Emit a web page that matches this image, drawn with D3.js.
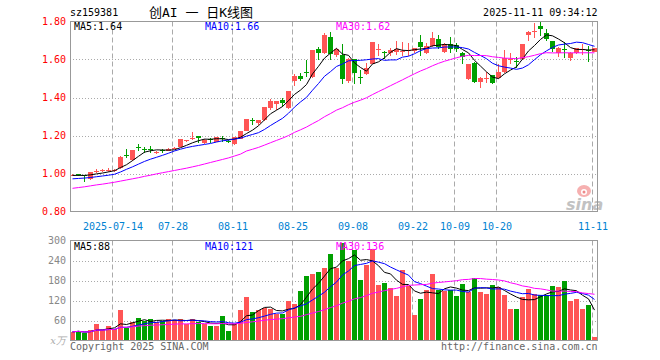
<!DOCTYPE html>
<html><head><meta charset="utf-8">
<script src="https://cdn.jsdelivr.net/npm/d3@7"></script>
<style>body{margin:0;background:#fff}svg{display:block}</style>
</head><body>
<svg id="c" width="660" height="360"></svg>
<script>
const dates = [
"2025-07-03","2025-07-04","2025-07-07","2025-07-08","2025-07-09","2025-07-10","2025-07-11","2025-07-14","2025-07-15","2025-07-16","2025-07-17","2025-07-18","2025-07-21","2025-07-22","2025-07-23","2025-07-24","2025-07-25","2025-07-28","2025-07-29","2025-07-30","2025-07-31",
"2025-08-01","2025-08-04","2025-08-05","2025-08-06","2025-08-07","2025-08-08","2025-08-11","2025-08-12","2025-08-13","2025-08-14","2025-08-15","2025-08-18","2025-08-19","2025-08-20","2025-08-21","2025-08-22","2025-08-25","2025-08-26","2025-08-27","2025-08-28","2025-08-29",
"2025-09-01","2025-09-02","2025-09-03","2025-09-04","2025-09-05","2025-09-08","2025-09-09","2025-09-10","2025-09-11","2025-09-12","2025-09-15","2025-09-16","2025-09-17","2025-09-18","2025-09-19","2025-09-22","2025-09-23","2025-09-24","2025-09-25","2025-09-26","2025-09-29","2025-09-30",
"2025-10-09","2025-10-10","2025-10-13","2025-10-14","2025-10-15","2025-10-16","2025-10-17","2025-10-20","2025-10-21","2025-10-22","2025-10-23","2025-10-24","2025-10-27","2025-10-28","2025-10-29","2025-10-30","2025-10-31",
"2025-11-03","2025-11-04","2025-11-05","2025-11-06","2025-11-07","2025-11-10","2025-11-11"];

const open  = [0.990,0.995,0.990,0.971,1.010,1.012,1.016,1.013,1.027,1.095,1.071,1.138,1.131,1.128,1.110,1.124,1.120,1.132,1.140,1.170,1.182,1.195,1.160,1.180,1.167,1.188,1.170,1.155,1.182,1.224,1.280,1.264,1.280,1.343,1.364,1.387,1.343,1.487,1.513,1.532,1.506,1.655,1.633,1.717,1.624,1.625,1.487,1.600,1.510,1.524,1.576,1.650,1.640,1.633,1.641,1.642,1.644,1.644,1.690,1.633,1.671,1.706,1.641,1.680,1.676,1.636,1.497,1.583,1.483,1.498,1.518,1.504,1.533,1.598,1.592,1.600,1.729,1.748,1.777,1.738,1.697,1.636,1.657,1.606,1.636,1.650,1.652,1.641];
const high  = [0.997,0.998,0.992,1.008,1.025,1.022,1.028,1.025,1.090,1.127,1.126,1.155,1.140,1.146,1.120,1.128,1.132,1.140,1.182,1.178,1.217,1.200,1.180,1.185,1.192,1.197,1.178,1.192,1.226,1.289,1.292,1.282,1.350,1.390,1.384,1.395,1.436,1.526,1.530,1.597,1.652,1.668,1.738,1.743,1.660,1.680,1.610,1.602,1.545,1.583,1.692,1.682,1.645,1.658,1.695,1.690,1.685,1.662,1.730,1.685,1.743,1.730,1.686,1.718,1.686,1.640,1.578,1.585,1.506,1.532,1.520,1.575,1.650,1.634,1.615,1.682,1.752,1.790,1.795,1.760,1.700,1.665,1.690,1.638,1.662,1.680,1.670,1.662];
const low   = [0.985,0.985,0.957,0.968,1.003,1.008,1.010,1.008,1.025,1.083,1.068,1.120,1.110,1.108,1.100,1.110,1.118,1.130,1.138,1.165,1.176,1.160,1.155,1.163,1.165,1.167,1.160,1.152,1.180,1.222,1.255,1.256,1.278,1.332,1.336,1.350,1.340,1.458,1.487,1.508,1.504,1.595,1.628,1.595,1.615,1.470,1.475,1.470,1.470,1.520,1.574,1.620,1.600,1.620,1.625,1.620,1.617,1.633,1.620,1.630,1.665,1.655,1.632,1.632,1.642,1.575,1.494,1.475,1.452,1.476,1.470,1.500,1.528,1.575,1.557,1.598,1.700,1.712,1.725,1.700,1.638,1.615,1.610,1.593,1.630,1.625,1.588,1.638];
const close = [0.994,0.990,0.985,1.006,1.015,1.016,1.020,1.017,1.088,1.090,1.124,1.133,1.127,1.124,1.114,1.120,1.130,1.136,1.180,1.175,1.187,1.185,1.178,1.176,1.190,1.184,1.166,1.190,1.224,1.287,1.274,1.280,1.348,1.382,1.382,1.370,1.434,1.513,1.496,1.528,1.650,1.633,1.729,1.627,1.654,1.500,1.600,1.530,1.506,1.557,1.690,1.655,1.636,1.650,1.655,1.646,1.648,1.660,1.667,1.671,1.715,1.664,1.680,1.654,1.654,1.611,1.575,1.483,1.504,1.502,1.475,1.533,1.609,1.602,1.588,1.680,1.746,1.752,1.762,1.708,1.655,1.662,1.653,1.636,1.659,1.654,1.648,1.659];
const volume = [26,29,21,31,49,31,43,36,91,39,56,67,59,64,55,59,64,63,64,49,66,55,49,43,43,73,28,49,91,130,85,93,97,96,79,79,119,109,150,194,200,205,218,260,218,293,239,273,181,228,274,166,173,158,134,211,164,76,124,151,200,153,148,151,134,170,146,188,146,140,167,161,136,94,94,131,155,140,136,136,163,161,179,119,125,95,106,11];

// moving-average values for the first days (earlier history not shown)
const ma5Early  = [0.990,0.990,0.990,0.993];
const ma10Early = [0.972,0.974,0.976,0.979,0.983,0.987,0.991,0.996,1.008];
const ma30Early = [0.922,0.926,0.930,0.935,0.940,0.944,0.949,0.954,0.960,0.966,0.972,0.978,0.985,0.991,0.998,1.004,1.010,1.016,1.022,1.028,1.035,1.042,1.050,1.058,1.066,1.074,1.082,1.092,1.102];

const priceTicks = [0.8,1.0,1.2,1.4,1.6,1.8];
const volTicks = [60,120,180,240,300];
const labelDates = ["2025-07-14","2025-07-28","2025-08-11","2025-08-25","2025-09-08","2025-09-22","2025-10-09","2025-10-20","2025-11-11"];
const labelTexts = ["2025-07-14","07-28","08-11","08-25","09-08","09-22","10-09","10-20","11-11"];
const priceLegend = ["MA5:1.64","MA10:1.66","MA30:1.62"];
const volLegend = ["MA5:88","MA10:121","MA30:136"];
const titleCode = "sz159381", titleName = "创AI 一 日K线图", stamp = "2025-11-11 09:34:12";

const RED = "#ff5555", GREEN = "#00a000", GRID = "#aaaaaa", FRAME = "#999999";
const MONO = "'DejaVu Sans Mono', monospace";
const svg = d3.select("#c");

const L = 70, R = 598, PT = 21.5, PB = 211.5, VT = 240.5, VB = 340.5;
const x = d3.scaleBand().domain(dates).range([L, R]);
const y = d3.scaleLinear().domain([0.8, 1.8]).range([PB, PT]);
const yv = d3.scaleLinear().domain([0, 300]).range([VB, VT]);
const cx = d => x(d) + 2.5;

function ma(arr, n, early) {
  return arr.map((v, i) => {
    if (i < n - 1) return early ? early[i] : d3.mean(arr.slice(0, i + 1));
    return d3.mean(arr.slice(i - n + 1, i + 1));
  });
}

// ---------- frames & grids ----------
function panel(top, bottom, yScale, gridVals) {
  const g = svg.append("g");
  g.selectAll("line.h").data(gridVals).join("line")
    .attr("x1", L).attr("x2", R).attr("y1", d => Math.round(yScale(d)) + 0.5).attr("y2", d => Math.round(yScale(d)) + 0.5)
    .attr("stroke", GRID).attr("stroke-dasharray", "1,2");
  g.selectAll("line.v").data(labelDates).join("line")
    .attr("x1", d => x(d) + 0.5).attr("x2", d => x(d) + 0.5).attr("y1", top).attr("y2", bottom)
    .attr("stroke", GRID).attr("stroke-dasharray", "5,3");
  return g;
}
panel(PT, PB, y, [1.0, 1.2, 1.4, 1.6]);
panel(VT, VB, yv, [60, 120, 180, 240]);

// ---------- sina watermark ----------
const wm = svg.append("g");
wm.append("ellipse").attr("cx", 584).attr("cy", 191).attr("rx", 7).attr("ry", 6).attr("fill", "#f6b0b0");
wm.append("circle").attr("cx", 584).attr("cy", 192).attr("r", 3).attr("fill", "#fff");
wm.append("circle").attr("cx", 584).attr("cy", 192).attr("r", 1.5).attr("fill", "#e88");
wm.append("text").attr("x", 566).attr("y", 210).text("sina")
  .attr("font-family", "'DejaVu Sans', sans-serif").attr("font-size", 16).attr("font-style", "italic").attr("font-weight", "bold").attr("fill", "#c2c2c2");

// ---------- candles ----------
const data = dates.map((d, i) => ({d, o: open[i], h: high[i], l: low[i], c: close[i], v: volume[i]}));
const cg = svg.append("g").attr("shape-rendering", "crispEdges");
cg.selectAll("line").data(data).join("line")
  .attr("x1", d => cx(d.d)).attr("x2", d => cx(d.d))
  .attr("y1", d => Math.round(y(d.h))).attr("y2", d => Math.round(y(d.l)))
  .attr("stroke", d => d.c >= d.o ? RED : GREEN);
cg.selectAll("rect").data(data).join("rect")
  .attr("x", d => x(d.d)).attr("width", x.bandwidth() - 1)
  .attr("y", d => Math.round(y(Math.max(d.o, d.c))))
  .attr("height", d => Math.max(1, Math.round(y(Math.min(d.o, d.c))) - Math.round(y(Math.max(d.o, d.c)))))
  .attr("fill", d => d.c >= d.o ? RED : GREEN);

// ---------- volume bars ----------
svg.append("g").attr("shape-rendering", "crispEdges").selectAll("rect").data(data).join("rect")
  .attr("x", d => x(d.d)).attr("width", x.bandwidth() - 1)
  .attr("y", d => Math.round(yv(d.v))).attr("height", d => VB - 0.5 - Math.round(yv(d.v)))
  .attr("fill", d => d.c >= d.o ? RED : GREEN);

// ---------- MA lines ----------
const maColors = ["#000000", "#0000ff", "#ff00ff"];
const pMA = [ma(close, 5, ma5Early), ma(close, 10, ma10Early), ma(close, 30, ma30Early)];
const vMA = [ma(volume, 5), ma(volume, 10), ma(volume, 30)];
pMA.forEach((s, k) => {
  svg.append("path").datum(s).attr("fill", "none").attr("stroke", maColors[k]).attr("stroke-width", 1)
    .attr("d", d3.line().x((v, i) => cx(dates[i])).y(v => y(v)));
});
vMA.forEach((s, k) => {
  svg.append("path").datum(s).attr("fill", "none").attr("stroke", maColors[k]).attr("stroke-width", 1)
    .attr("d", d3.line().x((v, i) => cx(dates[i])).y(v => yv(v)));
});

// ---------- frames ----------
[[PT - 0.5, PB], [VT, VB]].forEach(([t, b]) => {
  svg.append("rect").attr("x", L + 0.5).attr("y", t).attr("width", R - L - 1).attr("height", b - t)
    .attr("fill", "none").attr("stroke", FRAME).attr("shape-rendering", "crispEdges");
});

// ---------- axes ----------
const ya = svg.append("g").attr("transform", `translate(${L},0)`)
  .call(d3.axisLeft(y).tickValues(priceTicks).tickFormat(d3.format(".2f")).tickSize(0).tickPadding(4));
ya.select(".domain").remove();
ya.selectAll("text").attr("fill", "#ff0000").attr("font-family", MONO).attr("font-size", 10);

const va = svg.append("g").attr("transform", `translate(${L},0)`)
  .call(d3.axisLeft(yv).tickValues(volTicks).tickSize(0).tickPadding(4));
va.select(".domain").remove();
va.selectAll("text").attr("fill", "#888888").attr("font-family", MONO).attr("font-size", 10);
svg.append("text").attr("x", 66).attr("y", 344).attr("text-anchor", "end").text("x万")
  .attr("font-family", "'DejaVu Serif', serif").attr("font-size", 10).attr("font-style", "italic").attr("fill", "#aaa");

const xa = svg.append("g").attr("transform", `translate(-2,${PB})`)
  .call(d3.axisBottom(x).tickValues(labelDates).tickFormat(d => labelTexts[labelDates.indexOf(d)]).tickSize(0).tickPadding(11));
xa.select(".domain").remove();
xa.selectAll("text").attr("fill", "#0082d2").attr("font-family", MONO).attr("font-size", 10);

// ---------- texts ----------
function txt(s, xx, yy, color, anchor, font, size) {
  svg.append("text").attr("x", xx).attr("y", yy).text(s).attr("fill", color)
    .attr("text-anchor", anchor || "start").attr("font-family", font || MONO).attr("font-size", size || 10);
}
txt(titleCode, 70, 16, "#000");
txt(titleName, 201, 17, "#000", "middle", "'DejaVu Sans Mono','Noto Sans CJK SC',monospace", 13);
txt(stamp, 597.5, 16, "#000", "end");
const legX = [74, 205, 336];
priceLegend.forEach((s, k) => txt(s, legX[k], 30, maColors[k]));
volLegend.forEach((s, k) => txt(s, legX[k], 249.5, maColors[k]));
txt("Copyright 2025 SINA.COM", 70, 350, "#666");
txt("http://finance.sina.com.cn", 597.5, 350, "#666", "end");
</script>
</body></html>
